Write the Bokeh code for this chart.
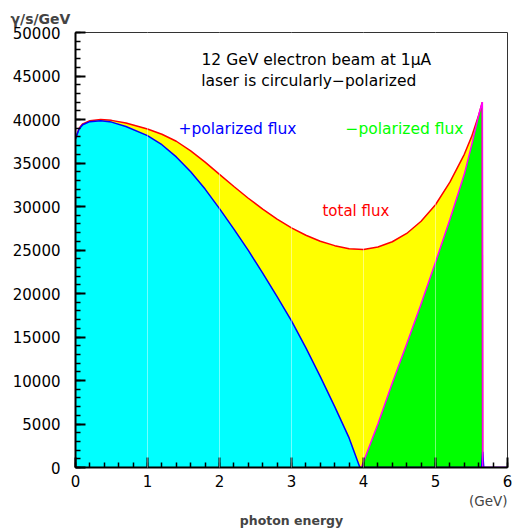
from bokeh.plotting import figure
from bokeh.models import Range1d, SingleIntervalTicker, Label, BasicTickFormatter, Title
from bokeh.embed import file_html
from bokeh.resources import INLINE

# photon energy (GeV) and flux (gamma/s/GeV)
total_x = [0.0, 0.05, 0.1, 0.2, 0.35, 0.5, 0.7, 1.0, 1.2, 1.4, 1.6, 1.8, 2.0, 2.2, 2.4,
           2.6, 2.8, 3.0, 3.2, 3.4, 3.6, 3.8, 4.0, 4.2, 4.4, 4.6, 4.8, 5.0, 5.2, 5.4,
           5.5, 5.6, 5.65, 5.655]
total_y = [37800, 39000, 39500, 39850, 40000, 39900, 39600, 38900, 38300, 37500, 36400,
           35100, 33700, 32300, 30950, 29700, 28550, 27550, 26700, 26000, 25500, 25150,
           25050, 25350, 25950, 26900, 28300, 30200, 32800, 36000, 38000, 40500, 42000, 0]

plus_x = [0.0, 0.05, 0.1, 0.2, 0.35, 0.5, 0.7, 1.0, 1.2, 1.4, 1.6, 1.8, 2.0, 2.2, 2.4,
          2.6, 2.8, 3.0, 3.2, 3.4, 3.6, 3.8, 3.95, 5.64, 5.655, 5.67, 6.0]
plus_y = [37800, 38900, 39400, 39750, 39850, 39700, 39200, 38150, 37100, 35700, 34000,
          32000, 29750, 27400, 24950, 22350, 19650, 16850, 13750, 10450, 7000, 3400, 0,
          0, 1800, 0, 0]

minus_x = [3.97, 4.2, 4.4, 4.6, 4.8, 5.0, 5.2, 5.4, 5.5, 5.6, 5.65, 5.655, 6.0]
minus_y = [0, 5000, 9700, 14200, 18800, 23600, 28500, 33700, 37000, 40500, 42000, 0, 0]

FONT = "DejaVu Sans"

p = figure(width=512, height=529, output_backend="svg", toolbar_location=None,
           x_range=Range1d(0, 6), y_range=Range1d(0, 50000),
           min_border_left=75, min_border_right=5, min_border_top=32,
           min_border_bottom=62)
p.background_fill_color = "white"
p.border_fill_color = "white"
p.outline_line_color = "#333333"
p.outline_line_width = 1
p.ygrid.visible = False

p.varea(x=total_x, y1=0, y2=total_y, fill_color="#ffff00")
p.varea(x=plus_x, y1=0, y2=plus_y, fill_color="#00ffff")
p.varea(x=minus_x, y1=0, y2=minus_y, fill_color="#00ff00")
p.line(total_x, total_y, line_color="#ff0000", line_width=1.5)
p.line(plus_x, plus_y, line_color="#0000ff", line_width=1.5)
p.line(minus_x, minus_y, line_color="#ff00ff", line_width=1.5)

for ax in (p.xaxis[0], p.yaxis[0]):
    ax.axis_line_width = 2
    ax.axis_line_color = "black"
    ax.major_tick_in = 10
    ax.major_tick_out = 0
    ax.minor_tick_in = 5
    ax.minor_tick_out = 0
    ax.major_tick_line_width = 2
    ax.minor_tick_line_width = 1.5
    ax.major_tick_line_color = "black"
    ax.minor_tick_line_color = "black"
    ax.major_label_text_font = FONT
    ax.major_label_text_font_size = "15px"
    ax.major_label_text_color = "black"

p.xaxis[0].ticker = SingleIntervalTicker(interval=1, num_minor_ticks=5)
p.yaxis[0].ticker = SingleIntervalTicker(interval=5000, num_minor_ticks=5)
p.yaxis[0].formatter = BasicTickFormatter(use_scientific=False)
p.xaxis[0].major_label_standoff = 7
p.yaxis[0].major_label_standoff = 15

# faint light vertical lines through the filled areas
g = p.xgrid[0]
g.ticker = SingleIntervalTicker(interval=1)
g.bounds = (0.5, 5.5)
g.grid_line_color = "white"
g.grid_line_alpha = 0.45
g.grid_line_width = 1
g.level = "annotation"

# axis titles outside the frame
p.title.text = "\u03b3/s/GeV"
p.title.align = "left"
p.title.offset = -65
p.title.text_font = FONT
p.title.text_font_size = "14px"
p.title.text_font_style = "bold"
p.title.standoff = 11

t_unit = Title(text="(GeV)", align="right", text_font=FONT, text_font_size="13.5px",
               text_font_style="normal", standoff=3)
t_name = Title(text="photon energy", align="center", text_font=FONT,
               text_font_size="12.5px", text_font_style="bold", standoff=0)
p.add_layout(t_unit, "below")
p.add_layout(t_name, "below")

def lab(x, y, text, color="black", size="15.5px"):
    p.add_layout(Label(x=x, y=y, text=text, text_color=color, text_font=FONT,
                       text_font_size=size, text_align="left",
                       text_baseline="alphabetic"))

lab(1.75, 46800, "12 GeV electron beam at 1\u03bcA")
lab(1.745, 44400, "laser is circularly\u2212polarized")
lab(1.43, 38900, "+polarized flux", color="#0000ff", size="15.5px")
lab(3.75, 38900, "\u2212polarized flux", color="#00ff00", size="15.5px")
lab(3.43, 29500, "total flux", color="#ff0000", size="15px")

open("out.html", "w").write(file_html(p, INLINE))
